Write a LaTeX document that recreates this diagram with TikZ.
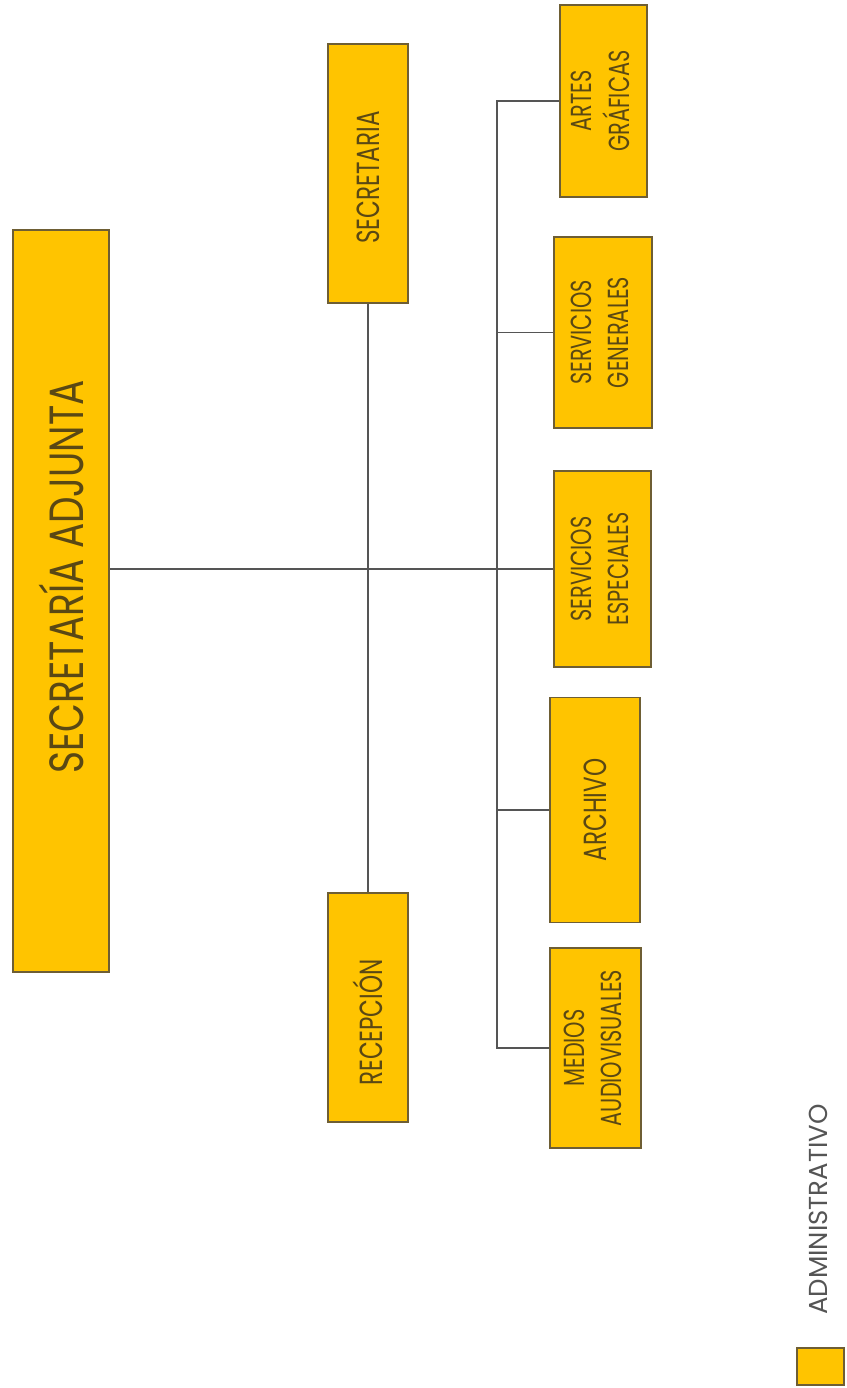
\documentclass[tikz,border=0pt]{standalone}
\usepackage{fontspec}
\setmainfont{Poppins}[FakeStretch=0.72]
\newfontfamily\titlefont{Poppins}[FakeStretch=0.78]
\newfontfamily\legendfont{Poppins}[FakeStretch=1.0]
\definecolor{boxfill}{HTML}{FFC400}
\definecolor{boxline}{HTML}{6E5E34}
\definecolor{labeltext}{HTML}{5A4814}
\definecolor{wirecol}{HTML}{555555}
\newcommand\vtext[1]{\rotatebox{90}{#1}}
\newcommand\twoline[2]{\rotatebox{90}{\begin{tabular}{@{}c@{}}#1\\#2\end{tabular}}}
\begin{document}
\begin{tikzpicture}[x=1pt,y=-1pt,
  unitbox/.style={draw=boxline, line width=1.4pt, fill=boxfill, inner sep=0pt,
    text=labeltext, font=\fontsize{29}{37}\selectfont},
  bigbox/.style={unitbox, font=\fontsize{32}{37}\selectfont},
  wire/.style={draw=wirecol, line width=1.8pt}]
\useasboundingbox (0,0) rectangle (846,1388);

% units
\node[unitbox, minimum width=96pt, minimum height=742pt, font=\titlefont\fontsize{48}{52}\selectfont]
  (adj) at (61,601) {\vtext{\hspace*{48pt}SECRETARÍA ADJUNTA}};
\node[bigbox, minimum width=80pt, minimum height=259pt] (sec) at (368,173.5) {\vtext{SECRETARIA\hspace*{8pt}}};
\node[bigbox, minimum width=80pt, minimum height=229pt] (rec) at (368,1007.5) {\vtext{RECEPCIÓN\hspace*{30pt}}};
\node[unitbox, minimum width=87pt, minimum height=192pt] (artes) at (603.5,101) {\twoline{ARTES}{GRÁFICAS}};
\node[unitbox, minimum width=98pt, minimum height=191pt] (gen) at (603,332.5) {\twoline{SERVICIOS}{GENERALES}};
\node[unitbox, minimum width=97pt, minimum height=196pt] (esp) at (602.5,569) {\twoline{SERVICIOS}{ESPECIALES}};
\node[bigbox, minimum width=90pt, minimum height=225pt] (arch) at (595,810) {\vtext{ARCHIVO}};
\node[unitbox, minimum width=91pt, minimum height=200pt] (med) at (595.5,1048) {\twoline{MEDIOS}{AUDIOVISUALES}};

% connectors
\coordinate (bus) at (497,0);
\draw[wire] (esp.west) -- (esp.west -| adj.east);
\draw[wire] (sec.south) -- (rec.north);
\draw[wire] (artes.west) -- (artes.west -| bus) -- (med.west -| bus) -- (med.west);
\draw[wire] (gen.west) -- (gen.west -| bus);
\draw[wire] (arch.west) -- (arch.west -| bus);

% legend
\node[unitbox, minimum width=47pt, minimum height=37pt] (key) at (820.5,1366.5) {};
\node[text=wirecol, inner sep=0pt, font=\legendfont\fontsize{26}{30}\selectfont]
  (keytext) at (818,1209.5) {\vtext{ADMINISTRATIVO}};
\end{tikzpicture}
\end{document}
